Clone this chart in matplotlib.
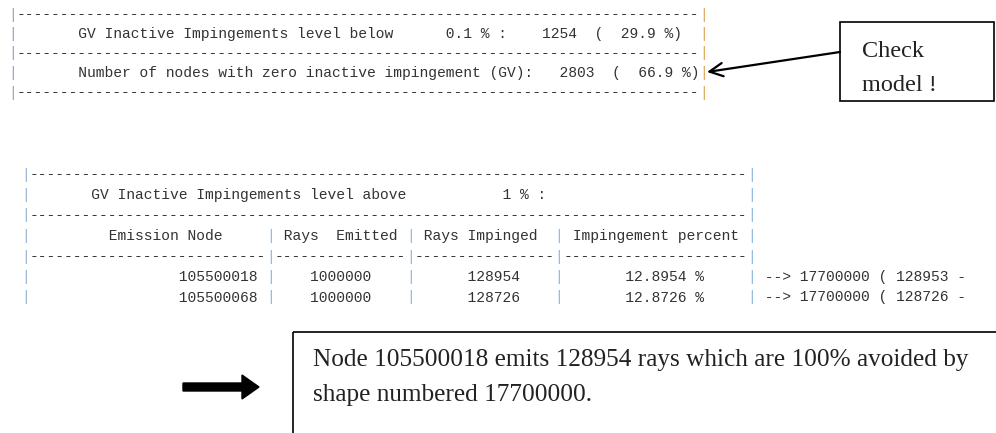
import re

import matplotlib
matplotlib.use("Agg")
import matplotlib.pyplot as plt
from matplotlib.patches import Rectangle, FancyArrow

# report values
level_below = "0.1"
n_below = 1254
pct_below = 29.9
n_zero = 2803
pct_zero = 66.9
level_above = "1"

nodes = [105500018, 105500068]
rays_emitted = [1000000, 1000000]
rays_impinged = [128954, 128726]
imp_percent = [12.8954, 12.8726]
target_shape = [17700000, 17700000]
target_hits = [128953, 128726]

note_top = ["Check", "model !"]
note_bottom = [
    "Node 105500018 emits 128954 rays which are 100% avoided by",
    "shape numbered 17700000.",
]

MONO = "Liberation Mono"
CW = 8.75  # char advance in px (hinted advance of Liberation Mono)
MONO_PT = CW / 0.6 * 0.72
TEXT_C = "#333333"
SERIF = "Liberation Serif"

fig = plt.figure(figsize=(9.96, 4.33), dpi=100)
ax = fig.add_axes([0, 0, 1, 1])
ax.set_xlim(0, 996)
ax.set_ylim(433, 0)
ax.axis("off")


def draw_block(lines, x0, y0, dy, edge_col, inner_col):
    """x0 = left edge of first char cell, y0 = centre of first line."""
    width = len(lines[0])
    for k, line in enumerate(lines):
        y = y0 + k * dy + 4.5
        # split into runs of pipes / other chars so pipes can be coloured
        for m in re.finditer(r"\||[^|]+", line):
            i, seg = m.start(), m.group()
            if seg == "|":
                col = edge_col[0] if i == 0 else (
                    edge_col[1] if i == width - 1 else inner_col)
            else:
                col = TEXT_C
            ax.text(x0 + i * CW, y, seg, family=MONO, fontsize=MONO_PT,
                    color=col, ha="left", va="baseline")


# block 1
dash1 = "|" + "-" * 78 + "|"
b1_l2 = ("|       GV Inactive Impingements level below"
         + f"{level_below:>9} % :" + f"{n_below:>8d}" + f"  (  {pct_below:.1f} %)  |")
b1_l4 = ("|       Number of nodes with zero inactive impingement (GV):"
         + f"{n_zero:>7d}" + f"  (  {pct_zero:.1f} %)|")
draw_block([dash1, b1_l2, dash1, b1_l4, dash1], 8.0, 14, 19.5,
           ["#8ba3bd", "#dfa24f"], "#dfa24f")

# block 2
dash2 = "|" + "-" * 82 + "|"
title2 = ("|       GV Inactive Impingements level above"
          + f"{level_above:>12} % :" + " " * 23 + "|")
sep2 = "|" + "-" * 27 + "|" + "-" * 15 + "|" + "-" * 16 + "|" + "-" * 21 + "|"
head2 = ("|         Emission Node     | Rays  Emitted | Rays Impinged  |"
         " Impingement percent |")
rows2 = []
for n, e, im, p, s, h in zip(nodes, rays_emitted, rays_impinged, imp_percent,
                             target_shape, target_hits):
    rows2.append("|" + f"{n:>26d}" + " |" + f"{e:^15d}" + "|"
                 + f"      {im:<10d}" + "|" + f"{p:>14.4f} %     " + "|"
                 + f" --> {s} ( {h} -")
lines2 = [dash2, title2, dash2, head2, sep2] + rows2
draw_block(lines2, 21.0, 174, 20.5, ["#93aecb", "#86b4e0"], "#86b4e0")

# "Check model !" callout
ax.add_patch(Rectangle((840, 22), 154, 79, facecolor="white",
                       edgecolor="black", lw=1.2))
ax.text(862, 57, note_top[0], family=SERIF, fontsize=17.5,
        color="#222222", ha="left", va="baseline")
ax.text(862, 91, note_top[1], family=SERIF, fontsize=17.5,
        color="#222222", ha="left", va="baseline")
ax.annotate("", xy=(707, 72), xytext=(840, 52),
            arrowprops=dict(arrowstyle="->", lw=1.6, color="black",
                            mutation_scale=24, shrinkA=0, shrinkB=0))

# bottom note
ax.add_patch(Rectangle((293, 332), 760, 140, fill=False, edgecolor="black",
                       lw=1.2))
ax.text(313, 366, note_bottom[0], family=SERIF, fontsize=18.2,
        color="#222222", ha="left", va="baseline")
ax.text(313, 401, note_bottom[1], family=SERIF, fontsize=18.2,
        color="#222222", ha="left", va="baseline")
ax.add_patch(FancyArrow(183, 387, 76, 0, width=8, head_width=24,
                        head_length=17, length_includes_head=True,
                        color="black"))

fig.savefig("out.png", dpi=100)
